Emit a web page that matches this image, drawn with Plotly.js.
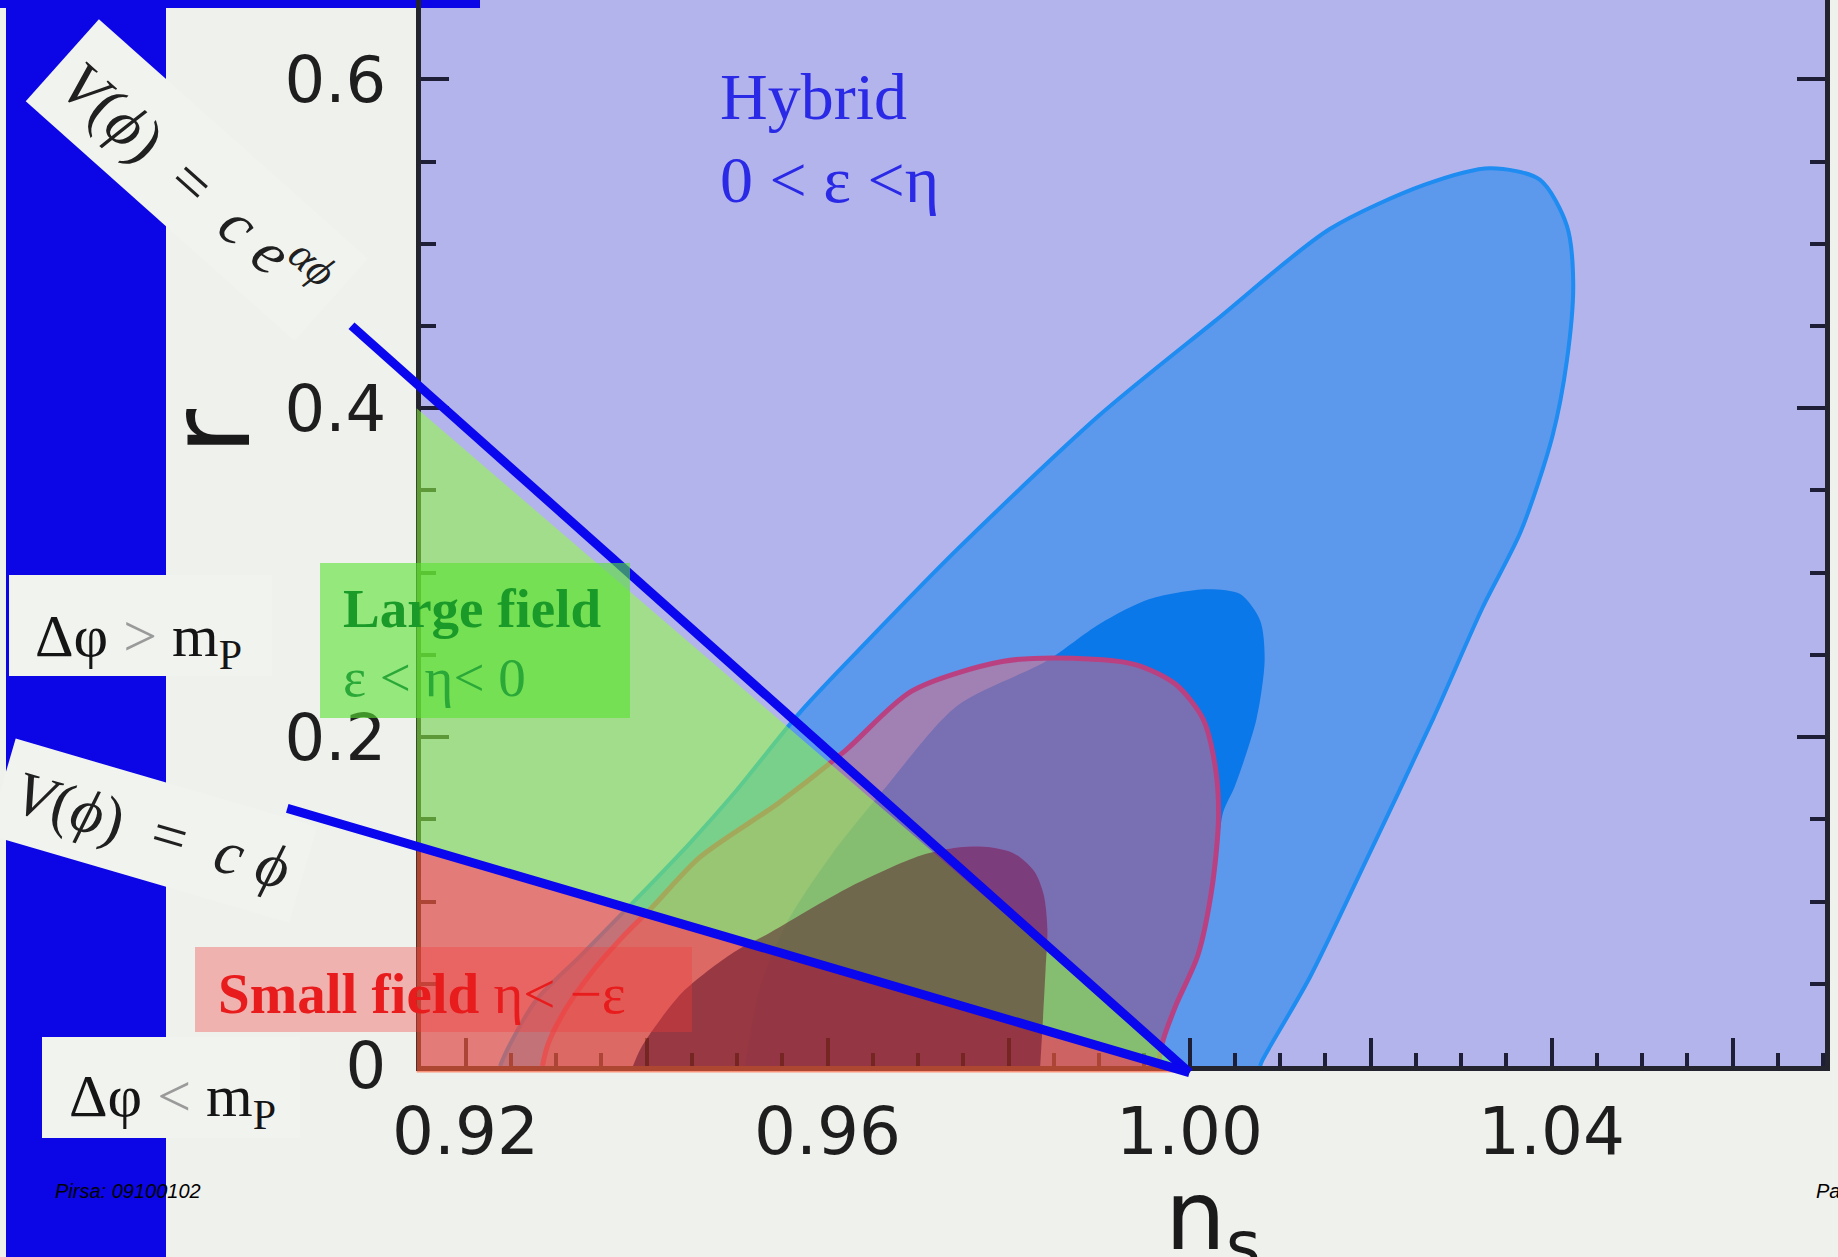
<!DOCTYPE html>
<html>
<head>
<meta charset="utf-8">
<script src="https://cdn.plot.ly/plotly-3.0.1.min.js"></script>
<style>
html,body{margin:0;padding:0;background:#eff1ed;overflow:hidden;}
#chart{width:1838px;height:1257px;}
</style>
</head>
<body>
<div id="chart"></div>
<script>
// ---------------- data ----------------
// outer (95%) blue likelihood contour in the (n_s, r) plane
const outerBlueX = [0.9238,0.9248,0.9278,0.9327,0.9386,0.9447,0.9497,0.9571,0.9645,0.9743,0.9901,1.0028,1.0155,1.0260,1.0332,1.0387,1.0417,1.0424,1.0417,1.0401,1.0366,1.0324,1.0269,1.0196,1.0133,1.0081,1.0078];
const outerBlueY = [0.000,0.012,0.040,0.067,0.100,0.135,0.166,0.216,0.259,0.314,0.396,0.453,0.509,0.536,0.546,0.539,0.511,0.476,0.429,0.383,0.325,0.279,0.211,0.126,0.054,0.004,0.000];
// inner (68%) blue contour
const innerBlueX = [0.9509,0.9525,0.9556,0.9605,0.9665,0.9743,0.9841,0.9901,0.9956,1.0019,1.0056,1.0078,1.0083,1.0074,1.0050,1.0037,1.0028,1.0006,0.9978,0.9959];
const innerBlueY = [0.000,0.047,0.088,0.129,0.170,0.219,0.246,0.269,0.284,0.290,0.287,0.271,0.247,0.211,0.170,0.154,0.113,0.065,0.024,0.000];
// outer (95%) pink contour
const outerPinkX = [0.9285,0.9291,0.9310,0.9338,0.9371,0.9407,0.9459,0.9546,0.9620,0.9693,0.9793,0.9871,0.9941,0.9985,1.0015,1.0029,1.0032,1.0025,1.0009,0.9985,0.9971,0.9965];
const outerPinkY = [0.000,0.013,0.034,0.056,0.077,0.097,0.127,0.160,0.192,0.228,0.246,0.248,0.244,0.232,0.211,0.180,0.150,0.109,0.067,0.037,0.016,0.000];
// inner (68%) purple contour
const innerPurpleX = [0.9385,0.9393,0.9407,0.9440,0.9496,0.9533,0.9625,0.9703,0.9746,0.9780,0.9807,0.9829,0.9839,0.9843,0.9841,0.9838,0.9835];
const innerPurpleY = [0.000,0.010,0.022,0.045,0.069,0.080,0.109,0.128,0.133,0.133,0.129,0.118,0.104,0.083,0.059,0.028,0.000];
// model regions
const largeFieldX = [0.9146, 1.000, 0.9146];
const largeFieldY = [0.400, -0.004, 0.132];
const smallFieldX = [0.9146, 1.000, 0.9146];
const smallFieldY = [0.132, -0.004, -0.004];
// boundary lines
const expLineX = [0.9074, 1.000];
const expLineY = [0.4502, -0.004];
const linLineX = [0.9003, 1.000];
const linLineY = [0.1567, -0.004];
// ticks
const xLabelVals = [0.92,0.96,1.00,1.04];
const xLabelText = ['0.92','0.96','1.00','1.04'];
const xMidTickVals = [0.94,0.98,1.02,1.06];
const yTickVals = [0,0.2,0.4,0.6];
const yTickText = ['0','0.2','0.4','0.6'];

// ---------------- layout geometry ----------------
const W = 1838, H = 1257;
const fx = p => p / W;
const fy = p => 1 - p / H;
const xRange = [0.91508, 1.07022];
const yRange = [0, 0.6483];
const xDomain = [fx(421), fx(1825)];
const yDomain = [fy(1066), 1];
// page-wide axes sharing the data scale (for lines that run into the margin)
const kx = (xRange[1]-xRange[0])/(xDomain[1]-xDomain[0]);
const ky = (yRange[1]-yRange[0])/(yDomain[1]-yDomain[0]);
const x2Range = [xRange[0]-xDomain[0]*kx, xRange[1]+(1-xDomain[1])*kx];
const y2Range = [yRange[0]-yDomain[0]*ky, yRange[1]+(1-yDomain[1])*ky];

const SERIF = 'Liberation Serif, Times New Roman, serif';
const SANS = 'DejaVu Sans, sans-serif';
const PAPER = '#eff1ed';

function region(x, y, fill, line, extra) {
  return Object.assign({
    type:'scatter', mode:'lines', x:x, y:y, fill:'toself', fillcolor:fill,
    line: Object.assign({shape:'spline', smoothing:0.8, width:0}, line || {}),
    hoverinfo:'skip', showlegend:false
  }, extra || {});
}
const onPage = {xaxis:'x2', yaxis:'y2'};

const data = [
  region(outerBlueX, outerBlueY, '#5c98ec', {color:'#1e8cf0', width:4}),
  region(innerBlueX, innerBlueY, '#0a78e8'),
  region(outerPinkX, outerPinkY, 'rgba(229,104,124,0.5)', {color:'#b94182', width:5}),
  region(innerPurpleX, innerPurpleY, 'rgba(245,110,255,0.5)'),
  {type:'scatter', mode:'lines', x:[], y:[], xaxis:'x3', yaxis:'y', hoverinfo:'skip', showlegend:false},
  region(largeFieldX, largeFieldY, 'rgba(145,255,60,0.55)', {shape:'linear'}, onPage),
  region(smallFieldX, smallFieldY, 'rgba(255,92,52,0.63)', {shape:'linear'}, onPage),
  // shading of the inner purple contour, kept visible through the model regions
  region(innerPurpleX, innerPurpleY, 'rgba(50,0,10,0.45)', {}, onPage),
  {type:'scatter', mode:'lines', x:expLineX, y:expLineY, xaxis:'x2', yaxis:'y2',
   line:{color:'#0a06ee', width:9}, hoverinfo:'skip', showlegend:false},
  {type:'scatter', mode:'lines', x:linLineX, y:linLineY, xaxis:'x2', yaxis:'y2',
   line:{color:'#0a06ee', width:9}, hoverinfo:'skip', showlegend:false}
];

const TICKC = '#1e1e36';
const axisCommon = {
  showgrid:false, zeroline:false, ticks:'inside', ticklen:28, tickwidth:4,
  tickcolor:TICKC, showline:true, linewidth:5, linecolor:'#24242e',
  tickmode:'array', fixedrange:true
};

const layout = {
  width:W, height:H, margin:{l:0,r:0,t:0,b:0},
  paper_bgcolor:PAPER, plot_bgcolor:'rgba(0,0,0,0)', showlegend:false,
  xaxis: Object.assign({}, axisCommon, {
    domain:xDomain, range:xRange, anchor:'y', tickvals:xLabelVals, ticktext:xLabelText,
    tickfont:{family:SANS, size:66, color:'#1e1e1e'}, ticklabelstandoff:4,
    minor:{tickmode:'linear', tick0:0.92, dtick:0.005, ticklen:13, tickwidth:4, tickcolor:TICKC, ticks:'inside'}
  }),
  xaxis3:{overlaying:'x', anchor:'y', side:'bottom', range:xRange, tickmode:'array', tickvals:xMidTickVals,
    ticks:'inside', ticklen:28, tickwidth:4, tickcolor:TICKC, showticklabels:false,
    showline:false, showgrid:false, zeroline:false, fixedrange:true},
  yaxis: Object.assign({}, axisCommon, {
    domain:yDomain, range:yRange, anchor:'x', tickvals:yTickVals, ticktext:yTickText, mirror:'ticks',
    tickfont:{family:SANS, size:64, color:'#1e1e1e'}, ticklabelstandoff:17,
    minor:{tickmode:'linear', tick0:0, dtick:0.05, ticklen:15, tickwidth:4, tickcolor:TICKC, ticks:'inside'}
  }),
  xaxis2:{domain:[0,1], range:x2Range, anchor:'y2', visible:false, fixedrange:true},
  yaxis2:{domain:[0,1], range:y2Range, anchor:'x2', visible:false, fixedrange:true},
  shapes:[
    {type:'rect', xref:'paper', yref:'paper', x0:fx(421), x1:fx(1825), y0:fy(1066), y1:1, fillcolor:'#b4b4ec', line:{width:0}, layer:'below'},
    {type:'rect', xref:'paper', yref:'paper', x0:fx(6), x1:fx(166), y0:0, y1:1, fillcolor:'#0c05e6', line:{width:0}, layer:'below'},
    {type:'rect', xref:'paper', yref:'paper', x0:0, x1:fx(480), y0:fy(8), y1:1, fillcolor:'#0c05e6', line:{width:0}, layer:'below'},
    {type:'rect', xref:'paper', yref:'paper', x0:fx(9), x1:fx(272), y0:fy(676), y1:fy(575), fillcolor:'#f1f3ef', line:{width:0}, layer:'above'},
    {type:'rect', xref:'paper', yref:'paper', x0:fx(42), x1:fx(300), y0:fy(1138), y1:fy(1037), fillcolor:'#f1f3ef', line:{width:0}, layer:'above'},
    {type:'rect', xref:'paper', yref:'paper', x0:fx(320), x1:fx(630), y0:fy(718), y1:fy(563), fillcolor:'rgba(88,226,48,0.6)', line:{width:0}, layer:'above'},
    {type:'rect', xref:'paper', yref:'paper', x0:fx(195), x1:fx(692), y0:fy(1032), y1:fy(947), fillcolor:'rgba(240,60,60,0.35)', line:{width:0}, layer:'above'}
  ],
  annotations:[
    {xref:'paper', yref:'paper', x:fx(718), y:fy(96), xanchor:'left', yanchor:'middle', showarrow:false,
     text:'Hybrid', font:{family:SERIF, size:66, color:'#2a2ae6'}},
    {xref:'paper', yref:'paper', x:fx(718), y:fy(180), xanchor:'left', yanchor:'middle', showarrow:false,
     text:'0 < ε <η', font:{family:SERIF, size:66, color:'#2a2ae6'}},
    {xref:'paper', yref:'paper', x:fx(341), y:fy(608), xanchor:'left', yanchor:'middle', showarrow:false,
     text:'<b>Large field</b>', font:{family:SERIF, size:55, color:'#1a9a28'}},
    {xref:'paper', yref:'paper', x:fx(341), y:fy(677), xanchor:'left', yanchor:'middle', showarrow:false,
     text:'ε < η< 0', font:{family:SERIF, size:55, color:'#2aa838'}},
    {xref:'paper', yref:'paper', x:fx(216), y:fy(993), xanchor:'left', yanchor:'middle', showarrow:false,
     text:'<b>Small field</b> η< −ε', font:{family:SERIF, size:57, color:'#e81c1c'}},
    {xref:'paper', yref:'paper', x:fx(33), y:fy(640), xanchor:'left', yanchor:'middle', showarrow:false,
     text:'Δφ <span style="color:#9a9a9a">></span> m<sub>P</sub>', font:{family:SERIF, size:60, color:'#151515'}},
    {xref:'paper', yref:'paper', x:fx(67), y:fy(1100), xanchor:'left', yanchor:'middle', showarrow:false,
     text:'Δφ <span style="color:#9a9a9a"><</span> m<sub>P</sub>', font:{family:SERIF, size:60, color:'#151515'}},
    {xref:'paper', yref:'paper', x:fx(196), y:fy(180), xanchor:'center', yanchor:'middle', showarrow:false,
     textangle:41.7, bgcolor:'#f1f3ef', borderpad:15,
     text:'<i>V</i>(<i>ϕ</i>)\u00a0\u00a0=\u00a0\u00a0<i>c</i>\u00a0<i>e</i><sup><i>αϕ</i></sup>', font:{family:SERIF, size:63, color:'#202020'}},
    {xref:'paper', yref:'paper', x:fx(152), y:fy(830), xanchor:'center', yanchor:'middle', showarrow:false,
     textangle:16.3, bgcolor:'#f1f3ef', borderpad:15,
     text:'<i>V</i>(<i>ϕ</i>)\u00a0\u00a0=\u00a0\u00a0<i>c</i>\u00a0<i>ϕ</i>', font:{family:SERIF, size:62, color:'#202020'}},
    {xref:'paper', yref:'paper', x:fx(210), y:fy(432), xanchor:'center', yanchor:'middle', showarrow:false,
     textangle:-90, text:'r', font:{family:SANS, size:112, color:'#1a1a1a'}},
    {xref:'paper', yref:'paper', x:fx(1163), y:fy(1158), xanchor:'left', yanchor:'top', showarrow:false,
     text:'n<sub>s</sub>', font:{family:SANS, size:96, color:'#1a1a1a'}},
    {xref:'paper', yref:'paper', x:fx(53), y:fy(1191), xanchor:'left', yanchor:'middle', showarrow:false,
     text:'<i>Pirsa: 09100102</i>', font:{family:'Liberation Sans, Arial, sans-serif', size:20, color:'#000'}},
    {xref:'paper', yref:'paper', x:fx(1814), y:fy(1191), xanchor:'left', yanchor:'middle', showarrow:false,
     text:'<i>Pa</i>', font:{family:'Liberation Sans, Arial, sans-serif', size:20, color:'#000'}}
  ]
};

Plotly.newPlot('chart', data, layout, {staticPlot:true, displayModeBar:false});
</script>
</body>
</html>
